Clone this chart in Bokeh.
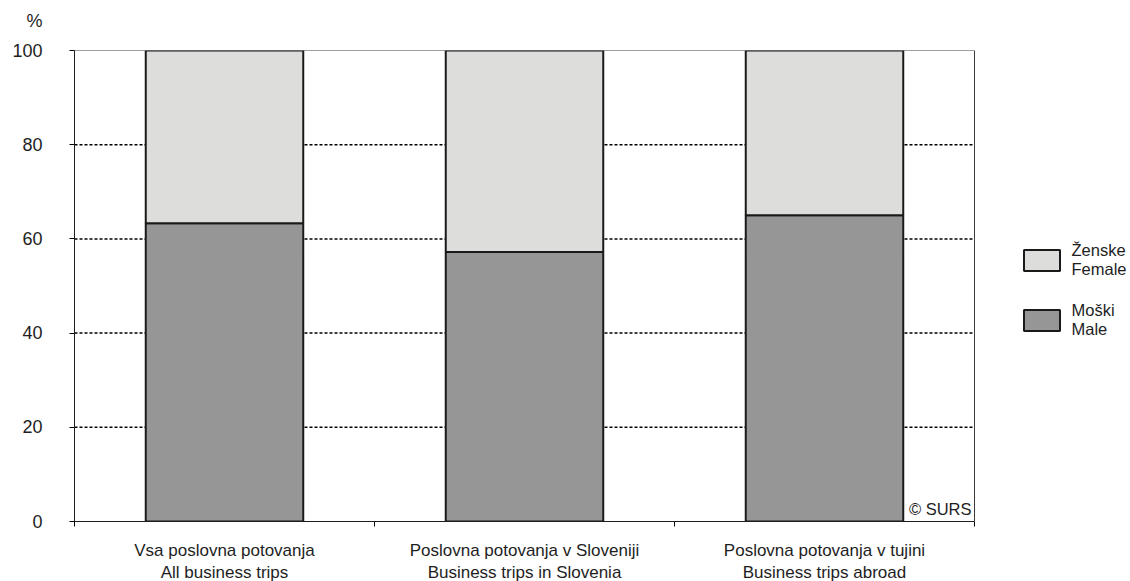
from bokeh.plotting import figure
from bokeh.models import (Range1d, FixedTicker, Label, Legend, LegendItem, ColumnDataSource,
                          BoxAnnotation)
from bokeh.embed import file_html
from bokeh.resources import INLINE

categories = ["Vsa poslovna potovanja\nAll business trips",
              "Poslovna potovanja v Sloveniji\nBusiness trips in Slovenia",
              "Poslovna potovanja v tujini\nBusiness trips abroad"]
male = [63.3, 57.2, 65.0]
female = [100 - m for m in male]
y_ticks = [0, 20, 40, 60, 80, 100]
grid_ticks = [20, 40, 60, 80]
unit = "%"

n = len(categories)
xs = [i + 0.5 for i in range(n)]
src = ColumnDataSource(dict(x=xs, male=male, female=female))

FONT = "Liberation Sans"
TXT = "#1e1e1e"
FW = 1054  # frame width (chart area 900 px + legend area)

p = figure(frame_width=FW, frame_height=471, output_backend="svg", toolbar_location=None,
           x_range=Range1d(0, n * FW / 900), y_range=Range1d(0, 100),
           min_border_left=74, min_border_top=50, min_border_bottom=50, min_border_right=0)
p.outline_line_color = None
p.xgrid.grid_line_color = None
p.ygrid.grid_line_color = None

# dotted gridlines limited to the chart area
p.segment(x0=[0] * len(grid_ticks), x1=[n] * len(grid_ticks), y0=grid_ticks, y1=grid_ticks,
          line_color="black", line_dash="3 2", line_width=1.5, level="underlay")

r = p.vbar_stack(["male", "female"], x="x", width=0.525, source=src,
                 fill_color=["#969696", "#dddddc"], line_color="#1a1a1a", line_width=2)

# chart area border
p.add_layout(BoxAnnotation(left=0, right=n, bottom=0, top=100, fill_alpha=0,
                           line_color="#3c3c3c", line_width=1, line_alpha=1))

# x axis
p.xaxis.bounds = (0, n)
p.xaxis.ticker = FixedTicker(ticks=xs, minor_ticks=list(range(n + 1)))
p.xaxis.major_label_overrides = {x: c for x, c in zip(xs, categories)}
p.xaxis.major_tick_out = 0
p.xaxis.major_tick_in = 0
p.xaxis.minor_tick_out = 5
p.xaxis.minor_tick_in = 0
p.xaxis.axis_line_color = "black"
p.xaxis.minor_tick_line_color = "black"
p.xaxis.major_label_text_font = FONT
p.xaxis.major_label_text_font_size = "17px"
p.xaxis.major_label_text_color = TXT
p.xaxis.major_label_standoff = 14

# y axis (the unit sign sits above the top tick label, right-aligned with it)
p.yaxis.ticker = FixedTicker(ticks=y_ticks)
p.yaxis.major_label_overrides = {y_ticks[-1]: f"{unit}\n{y_ticks[-1]}\n "}
p.yaxis.major_tick_out = 5
p.yaxis.major_tick_in = 0
p.yaxis.minor_tick_line_color = None
p.yaxis.axis_line_color = "black"
p.yaxis.major_tick_line_color = "black"
p.yaxis.major_label_text_font = FONT
p.yaxis.major_label_text_font_size = "18px"
p.yaxis.major_label_text_line_height = 1.5
p.yaxis.major_label_text_color = TXT
p.yaxis.major_label_standoff = 27

p.add_layout(Label(x=n - 0.01, y=2.6, text="© SURS", text_font=FONT, text_font_size="16.5px",
                   text_align="right", text_baseline="middle", text_color=TXT))

legend = Legend(items=[LegendItem(label="Ženske\nFemale", renderers=[r[1]]),
                       LegendItem(label="Moški\nMale", renderers=[r[0]])],
                location=(944.5, 182), border_line_color=None, background_fill_alpha=0,
                glyph_width=45, glyph_height=26, label_text_font=FONT,
                label_text_font_size="16.5px", label_text_color=TXT,
                spacing=22, padding=0, margin=0, label_standoff=8)
p.add_layout(legend, "center")

open("out.html", "w").write(file_html(p, INLINE))
